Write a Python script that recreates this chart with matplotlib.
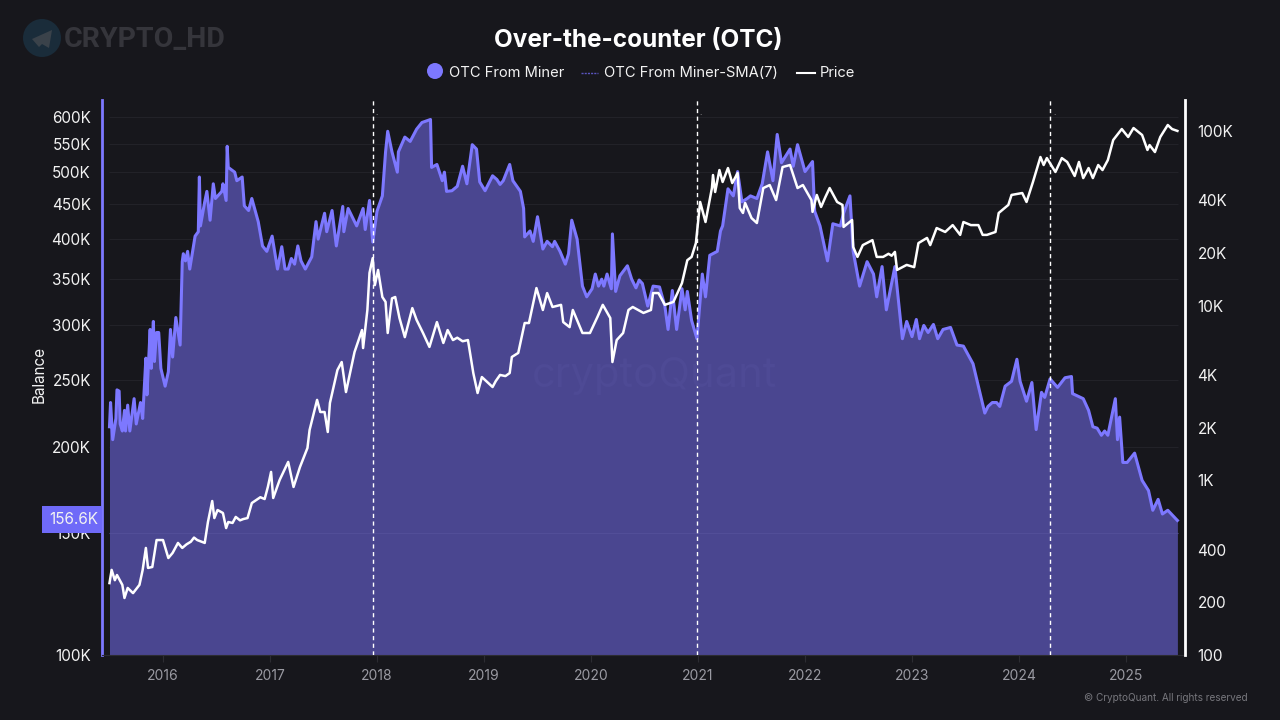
import matplotlib
matplotlib.use("Agg")

import matplotlib.pyplot as plt
from matplotlib.patches import Circle, Polygon, Rectangle
from matplotlib.ticker import NullLocator

plt.rcParams["font.family"] = ["Inter", "DejaVu Sans"]

BG = "#17171c"
FILL = "#4a4690"
PURPLE = "#7d78ff"
GRID = "#26262c"

# OTC From Miner balance, thousands
miner_t = [
    2015.50, 2015.51, 2015.53, 2015.56, 2015.57, 2015.59, 2015.60, 2015.62, 2015.64, 2015.65,
    2015.67, 2015.69, 2015.73, 2015.75, 2015.79, 2015.81, 2015.84, 2015.85, 2015.88, 2015.89,
    2015.91, 2015.92, 2015.94, 2015.96, 2015.98, 2016.02, 2016.05, 2016.07, 2016.09, 2016.12,
    2016.16, 2016.18, 2016.19, 2016.21, 2016.23, 2016.25, 2016.30, 2016.33, 2016.34, 2016.35,
    2016.39, 2016.41, 2016.44, 2016.47, 2016.49, 2016.55, 2016.56, 2016.59, 2016.60, 2016.61,
    2016.67, 2016.69, 2016.74, 2016.76, 2016.80, 2016.83, 2016.89, 2016.93, 2016.97, 2017.02, 2017.07,
    2017.11, 2017.14, 2017.17, 2017.20, 2017.23, 2017.26, 2017.29, 2017.33, 2017.39, 2017.43, 2017.45, 2017.51, 2017.53,
    2017.58, 2017.62, 2017.68, 2017.69, 2017.73, 2017.81, 2017.87, 2017.89, 2017.93, 2017.96,
    2018.00, 2018.05, 2018.08, 2018.10, 2018.14, 2018.19, 2018.20, 2018.26, 2018.31, 2018.37,
    2018.42, 2018.50, 2018.51, 2018.56, 2018.61, 2018.63, 2018.65, 2018.70, 2018.75, 2018.80, 2018.84,
    2018.89, 2018.93, 2018.96, 2019.01, 2019.08, 2019.12, 2019.15, 2019.18, 2019.24, 2019.27, 2019.34, 2019.37,
    2019.38, 2019.43, 2019.46, 2019.50, 2019.55, 2019.59, 2019.64, 2019.66, 2019.71, 2019.76,
    2019.79, 2019.82, 2019.87, 2019.92, 2019.96, 2020.01, 2020.04, 2020.07, 2020.10, 2020.12, 2020.15, 2020.19,
    2020.20, 2020.23, 2020.27, 2020.34, 2020.38, 2020.42, 2020.45, 2020.48, 2020.53, 2020.58, 2020.64, 2020.69,
    2020.72, 2020.76, 2020.80, 2020.85, 2020.88, 2020.90, 2020.94, 2020.99, 2021.04, 2021.07,
    2021.11, 2021.18, 2021.21, 2021.23, 2021.28, 2021.33, 2021.37, 2021.41, 2021.46, 2021.49,
    2021.55, 2021.60, 2021.65, 2021.70, 2021.74, 2021.78, 2021.86, 2021.89, 2021.93, 2022.00,
    2022.07, 2022.09, 2022.14, 2022.21, 2022.26, 2022.33, 2022.36, 2022.42, 2022.45, 2022.51,
    2022.58, 2022.64, 2022.67, 2022.72, 2022.76, 2022.84, 2022.91, 2022.95, 2023.00, 2023.04,
    2023.07, 2023.11, 2023.15, 2023.20, 2023.24, 2023.29, 2023.36, 2023.42, 2023.48, 2023.57, 2023.64, 2023.68,
    2023.71, 2023.75, 2023.79, 2023.82, 2023.87, 2023.93, 2023.98, 2024.01, 2024.07, 2024.12, 2024.16, 2024.21,
    2024.24, 2024.29, 2024.36, 2024.43, 2024.49, 2024.50, 2024.60, 2024.65, 2024.69, 2024.73, 2024.77, 2024.80, 2024.83,
    2024.87, 2024.90, 2024.92, 2024.94, 2024.97, 2025.01, 2025.08, 2025.15, 2025.21, 2025.25,
    2025.30, 2025.34, 2025.39, 2025.48,
]
miner_k = [
    214, 232, 205, 220, 242, 241, 216, 211, 226, 211,
    230, 211, 235, 216, 232, 220, 269, 238, 296, 260,
    304, 266, 293, 293, 260, 245, 257, 296, 270, 308,
    281, 371, 381, 372, 384, 362, 404, 410, 492, 418,
    453, 469, 426, 481, 458, 469, 481, 455, 545, 508,
    500, 486, 492, 447, 440, 458, 424, 391, 384, 404, 362,
    390, 362, 362, 375, 368, 391, 372, 362, 377, 424, 400, 436, 410,
    440, 391, 446, 410, 443, 418, 443, 413, 455, 396,
    439, 462, 535, 573, 535, 500, 535, 562, 554, 577,
    590, 596, 508, 513, 486, 500, 469, 470, 477, 510, 481,
    548, 540, 484, 470, 494, 488, 480, 486, 513, 486, 469, 443,
    403, 411, 397, 431, 387, 397, 390, 397, 384, 368,
    381, 426, 400, 342, 330, 339, 356, 342, 350, 342, 356, 339,
    407, 336, 354, 366, 350, 340, 349, 345, 320, 342, 341, 320,
    296, 337, 296, 339, 316, 336, 305, 287, 356, 330,
    379, 384, 411, 418, 473, 462, 501, 453, 458, 462,
    458, 481, 535, 486, 567, 516, 540, 510, 548, 501,
    518, 439, 418, 372, 421, 418, 436, 462, 384, 342,
    371, 356, 330, 365, 316, 365, 287, 304, 289, 306,
    287, 300, 293, 301, 287, 296, 298, 281, 280, 264, 238, 224,
    229, 232, 232, 229, 245, 249, 268, 249, 233, 248, 212, 240,
    236, 251, 244, 252, 253, 239, 235, 226, 214, 213, 208, 211, 208,
    223, 235, 205, 221, 190, 190, 196, 179, 173, 162,
    168, 160, 162, 156.6,
]

# Price, USD
price_t = [
    2015.50, 2015.52, 2015.55, 2015.57, 2015.62, 2015.64, 2015.67, 2015.72, 2015.78, 2015.81,
    2015.84, 2015.86, 2015.90, 2015.94, 2016.00, 2016.05, 2016.09, 2016.14, 2016.18, 2016.22, 2016.26, 2016.29, 2016.32,
    2016.39, 2016.42, 2016.46, 2016.48, 2016.51, 2016.56, 2016.59, 2016.61, 2016.65, 2016.68,
    2016.72, 2016.75, 2016.79, 2016.83, 2016.87, 2016.91, 2016.95, 2016.98, 2017.01, 2017.03, 2017.09, 2017.17, 2017.22, 2017.28,
    2017.35, 2017.37, 2017.44, 2017.47, 2017.51, 2017.54, 2017.56, 2017.63, 2017.67, 2017.71,
    2017.75, 2017.79, 2017.86, 2017.87, 2017.91, 2017.93, 2017.96, 2017.98, 2018.01, 2018.05,
    2018.08, 2018.10, 2018.14, 2018.17, 2018.21, 2018.26, 2018.33, 2018.37, 2018.43, 2018.49,
    2018.56, 2018.62, 2018.66, 2018.71, 2018.75, 2018.80, 2018.85, 2018.90, 2018.94, 2018.98, 2019.08, 2019.11, 2019.15,
    2019.20, 2019.24, 2019.26, 2019.32, 2019.38, 2019.42, 2019.49, 2019.55, 2019.59, 2019.64, 2019.72,
    2019.74, 2019.80, 2019.83, 2019.92, 2019.99, 2020.06, 2020.11, 2020.18, 2020.20, 2020.24,
    2020.30, 2020.35, 2020.39, 2020.49, 2020.56, 2020.58, 2020.63, 2020.69, 2020.77, 2020.85,
    2020.90, 2020.94, 2020.98, 2021.02, 2021.07, 2021.13, 2021.14, 2021.16, 2021.20, 2021.23,
    2021.28, 2021.32, 2021.37, 2021.39, 2021.42, 2021.44, 2021.50, 2021.55, 2021.61, 2021.67,
    2021.73, 2021.79, 2021.86, 2021.93, 2021.98, 2022.06, 2022.07, 2022.11, 2022.15, 2022.19,
    2022.23, 2022.30, 2022.35, 2022.36, 2022.44, 2022.45, 2022.49, 2022.54, 2022.63, 2022.67,
    2022.73, 2022.78, 2022.81, 2022.84, 2022.86, 2022.95, 2023.02, 2023.06, 2023.14, 2023.17, 2023.23, 2023.31,
    2023.38, 2023.45, 2023.48, 2023.55, 2023.62, 2023.66, 2023.70, 2023.78, 2023.81, 2023.90,
    2023.93, 2024.03, 2024.07, 2024.13, 2024.20, 2024.23, 2024.26, 2024.34, 2024.40, 2024.45,
    2024.52, 2024.56, 2024.60, 2024.65, 2024.69, 2024.74, 2024.78, 2024.83, 2024.88, 2024.96,
    2025.02, 2025.07, 2025.15, 2025.20, 2025.22, 2025.27, 2025.32, 2025.39, 2025.43, 2025.48,
]
price_usd = [
    258, 307, 268, 287, 252, 212, 242, 226, 252, 307,
    410, 315, 319, 455, 455, 359, 384, 438, 410, 430, 445, 470, 455,
    438, 577, 761, 608, 676, 650, 533, 577, 570, 617,
    590, 600, 608, 741, 770, 800, 781, 916, 1117, 792, 1004, 1274, 916, 1191,
    1531, 1941, 2885, 2460, 2460, 1890, 2770, 4277, 4753, 3200,
    4166, 5423, 7244, 5715, 9440, 15400, 18700, 13100, 16000, 11200,
    10500, 6970, 11000, 11200, 8490, 6600, 9680, 8280, 6970, 5800,
    8050, 6110, 7244, 6350, 6550, 6250, 6350, 4110, 3160, 3900, 3420, 3700, 4010,
    3950, 4110, 5080, 5360, 7950, 7950, 12600, 9440, 11800, 9820, 10100,
    8050, 7530, 9440, 6970, 6970, 8610, 10100, 8490, 4753, 6350,
    6970, 9440, 9820, 9080, 9440, 11800, 11800, 10100, 10500, 13450,
    18200, 19000, 22800, 39200, 30100, 47100, 55900, 44700, 59700, 51000,
    61300, 50300, 57400, 36200, 33900, 38700, 31700, 29700, 47100, 49000,
    40200, 62100, 63800, 47100, 49000, 40200, 34400, 43000, 36700, 41800,
    47100, 39200, 37700, 28200, 30900, 21650, 19000, 22200, 23700, 19000,
    19000, 19800, 19300, 20300, 16000, 17100, 16600, 22800, 24400, 22200, 27800, 26400,
    28900, 25400, 30100, 28900, 28900, 25400, 25400, 26400, 33900, 37700,
    43000, 44100, 39200, 51000, 70900, 63800, 69900, 58200, 69900, 66400,
    55200, 66400, 53700, 61300, 53700, 63800, 59700, 68100, 88700, 102500,
    92300, 103900, 94800, 77800, 83000, 75700, 92300, 108100, 102500, 100000,
]

halving_events = [2017.96, 2020.99, 2024.29]

years = [2016, 2017, 2018, 2019, 2020, 2021, 2022, 2023, 2024, 2025]
left_ticks = [100, 150, 200, 250, 300, 350, 400, 450, 500, 550, 600]
left_labels = ["100K", "150K", "200K", "250K", "300K", "350K", "400K", "450K", "500K", "550K", "600K"]
right_ticks = [100, 200, 400, 1000, 2000, 4000, 10000, 20000, 40000, 100000]
right_labels = ["100", "200", "400", "1K", "2K", "4K", "10K", "20K", "40K", "100K"]

fig = plt.figure(figsize=(12.8, 7.2), dpi=100, facecolor=BG)
ax = fig.add_axes([102 / 1280, 1 - 655 / 720, 1083 / 1280, 555 / 720], facecolor=BG)

ax.set_yscale("log")
ax.set_xlim(2015.43, 2025.551)
ax.set_ylim(100, 636)
ax.hlines(left_ticks[1:], 2015.5, 2025.49, color="#222228", lw=0.8, zorder=1)
ax.fill_between(miner_t, 100, miner_k, color=FILL, lw=0, zorder=2)
ax.hlines(left_ticks[1], 2015.5, 2025.49, color="#524e98", lw=0.8, zorder=2.5)
ax.plot(miner_t, miner_k, color=PURPLE, lw=2.2, zorder=3)

ax.set_xticks(years, [str(y) for y in years])
ax.set_yticks(left_ticks, left_labels)
ax.yaxis.set_minor_locator(NullLocator())
ax.tick_params(axis="x", length=5, width=0.8, color="#2c2c32", labelcolor="#9a9aa2",
               labelsize=10, pad=5)
ax.tick_params(axis="y", length=0, labelcolor="#f2f2f2", labelsize=11, pad=8)
ax.set_ylabel("Balance", color="#f2f2f2", fontsize=11)
ax.yaxis.set_label_coords(-0.0515, 0.505, transform=ax.transAxes)

for side in ("top", "right"):
    ax.spines[side].set_visible(False)
ax.spines["left"].set_color(PURPLE)
ax.spines["left"].set_linewidth(2)
ax.spines["bottom"].set_color("#2c2c32")

ax2 = ax.twinx()
ax2.set_yscale("log")
ax2.set_ylim(100, 150300)
ax2.plot(price_t, price_usd, color="white", lw=1.8, zorder=4)
ax2.set_yticks(right_ticks, right_labels)
ax2.yaxis.set_minor_locator(NullLocator())
ax2.tick_params(axis="y", length=0, labelcolor="#f2f2f2", labelsize=11, pad=9)
for side in ("top", "left", "bottom"):
    ax2.spines[side].set_visible(False)
ax2.spines["right"].set_color("white")
ax2.spines["right"].set_linewidth(2)

for t in halving_events:
    ax2.axvline(t, color="white", ls=(0, (3, 2.5)), lw=1.0, zorder=5)
    ax2.annotate(".", (t, 1), xycoords=("data", "axes fraction"), xytext=(2, -11),
                 textcoords="offset points", color="#cccccc", fontsize=6)

# decorations laid out in image pixels
over = fig.add_axes([0, 0, 1, 1], zorder=10)
over.set_xlim(0, 1280)
over.set_ylim(720, 0)
over.axis("off")

over.text(638, 40, "Over-the-counter (OTC)", color="white", fontsize=17.5, fontweight="bold",
          ha="center", va="center")

over.add_patch(Circle((435, 71), 8, color=PURPLE, lw=0))
over.text(449, 73, "OTC From Miner", color="#f2f2f2", fontsize=10.6, va="center")
over.plot([581, 598], [73, 73], color="#5a55c0", lw=1, ls=(0, (1.5, 0.8)))
over.text(604, 73, "OTC From Miner-SMA(7)", color="#f2f2f2", fontsize=10.6, va="center")
over.plot([797, 815], [73, 73], color="white", lw=1.5)
over.text(820, 73, "Price", color="#f2f2f2", fontsize=10.6, va="center")

over.add_patch(Rectangle((42, 506), 60, 27, color="#6f6af8", lw=0))
over.text(73.5, 520, "156.6K", color="#f2f2f2", fontsize=11, ha="center", va="center")

over.add_patch(Circle((42, 38), 19, color="#1a2c3a", lw=0))
over.add_patch(Polygon([(32, 39), (52, 30), (49, 48), (42, 44), (39, 47)], color="#3a424a", lw=0))
over.text(64, 39, "CRYPTO_HD", color="#35353b", fontsize=20.5, fontweight="bold", va="center",
          family=["Roboto", "DejaVu Sans"])

over.text(655, 376, "cryptoQuant", color="#4e4a95", fontsize=30, ha="center", va="center")
over.text(1248, 698, "© CryptoQuant. All rights reserved", color="#77777d", fontsize=7.2,
          ha="right", va="center")

fig.savefig("out.png", dpi=100, facecolor=BG)
plt.close(fig)
